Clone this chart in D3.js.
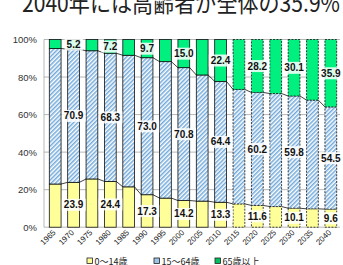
<!DOCTYPE html>
<html>
<head>
<meta charset="utf-8">
<script src="https://cdn.jsdelivr.net/npm/d3@7"></script>
<style>
  body { margin: 0; background: #fff; }
  svg { display: block; }
</style>
</head>
<body>
<div id="chart"></div>
<script>
// 年別の年齢3区分別人口割合（%）
let years = ["1965","1970","1975","1980","1985","1990","1995","2000","2005","2010","2015","2020","2025","2030","2035","2040"];
let young = [23.0, 23.9, 25.7, 24.4, 21.5, 17.3, 15.5, 14.2, 13.9, 13.3, 12.4, 11.6, 11.0, 10.1, 9.8, 9.6];
let working = [72.2, 70.9, 68.3, 68.3, 70.1, 73.0, 72.7, 70.8, 67.2, 64.4, 61.0, 60.2, 60.2, 59.8, 57.9, 54.5];
let elderly = [4.8, 5.2, 6.0, 7.2, 8.4, 9.7, 11.8, 15.0, 18.9, 22.4, 26.6, 28.2, 28.8, 30.1, 32.3, 35.9];
let seriesNames = ["0～14歳", "15～64歳", "65歳以上"];
let yTicks = [0, 20, 40, 60, 80, 100];
let labelYears = ["1970","1980","1990","2000","2010","2020","2030","2040"];
let firstProjection = "2015";
let title = "2040年には高齢者が全体の35.9%";

function ready(fn) {
  if (document.readyState != 'loading') fn();
  else document.addEventListener('DOMContentLoaded', fn);
}
ready(main);

function main() {
  let width = 343, height = 265;
  let colors = ["#ffff99", "url(#hatch)", "#00f080"];

  const svg = d3.select("#chart").append("svg")
    .attr("width", width).attr("height", height);

  let defs = svg.append("defs");
  let pat = defs.append("pattern")
    .attr("id", "hatch")
    .attr("patternUnits", "userSpaceOnUse")
    .attr("width", 3).attr("height", 3)
    .attr("patternTransform", "rotate(45)");
  pat.append("rect").attr("width", 3).attr("height", 3).attr("fill", "#fff");
  pat.append("line").attr("x1", 0.8).attr("y1", 0).attr("x2", 0.8).attr("y2", 3)
    .attr("stroke", "#5b9bd5").attr("stroke-width", 1.3);

  let x = d3.scaleBand().domain(years).range([46, 340]).paddingInner(0.36).paddingOuter(0.18);
  let y = d3.scaleLinear().domain([0, 100]).range([227.2, 39.5]);

  // タイトル（上部が切れている）
  svg.append("text")
    .attr("x", 22).attr("y", 12)
    .attr("font-family", "'Noto Sans CJK JP', sans-serif")
    .attr("font-size", 24)
    .attr("textLength", 318)
    .attr("lengthAdjust", "spacingAndGlyphs")
    .attr("fill", "#222")
    .text(title);

  // グリッド
  svg.append("g").selectAll("line").data(yTicks).join("line")
    .attr("x1", 44).attr("x2", 340)
    .attr("y1", d => y(d)).attr("y2", d => y(d))
    .attr("stroke", "#a6a6a6").attr("stroke-width", 0.8);
  svg.append("line").attr("x1", 44).attr("x2", 44).attr("y1", y(100)).attr("y2", y(0))
    .attr("stroke", "#a6a6a6").attr("stroke-width", 0.8);

  svg.append("g").selectAll("text").data(yTicks).join("text")
    .attr("x", 37).attr("y", d => y(d) + 3.5)
    .attr("text-anchor", "end")
    .attr("font-family", "'Liberation Sans', Arial, sans-serif")
    .attr("font-size", 9.5).attr("fill", "#333")
    .text(d => d + "%");

  let rows = years.map((yr, i) => ({ year: yr, v: [young[i], working[i], elderly[i]] }));
  let stack = d3.stack().keys([0, 1, 2]).value((d, k) => d.v[k]);
  let layers = stack(rows);
  let projIdx = years.indexOf(firstProjection);

  layers.forEach((layer, k) => {
    svg.append("g").selectAll("rect").data(layer).join("rect")
      .attr("x", d => x(d.data.year))
      .attr("width", x.bandwidth())
      .attr("y", d => y(Math.min(d[1], 100)))
      .attr("height", d => y(d[0]) - y(Math.min(d[1], 100)))
      .attr("fill", colors[k])
      .attr("stroke", "#111")
      .attr("stroke-width", 0.8)
      .attr("stroke-dasharray", (d, i) => i >= projIdx ? "2,1.3" : null);
  });

  // 区分線
  [0, 1].forEach(k => {
    let tops = layers[k].map(d => Math.min(d[1], 100));
    let segs = d3.pairs(years.map((yr, i) => ({ yr, t: tops[i] })));
    svg.append("g").selectAll("line").data(segs).join("line")
      .attr("x1", d => x(d[0].yr) + x.bandwidth())
      .attr("y1", d => y(d[0].t))
      .attr("x2", d => x(d[1].yr))
      .attr("y2", d => y(d[1].t))
      .attr("stroke", "#111").attr("stroke-width", 0.8);
  });

  // データラベル
  let lab = svg.append("g")
    .attr("font-family", "'Liberation Sans', Arial, sans-serif")
    .attr("font-size", 10).attr("font-weight", "bold");
  layers.forEach(layer => {
    layer.filter(d => labelYears.includes(d.data.year)).forEach(d => {
      let cx = x(d.data.year) + x.bandwidth() / 2;
      let cy = y((d[0] + Math.min(d[1], 100)) / 2);
      let g = lab.append("g");
      let t = g.append("text")
        .attr("x", cx).attr("y", cy + 3.6)
        .attr("text-anchor", "middle").attr("fill", "#111")
        .text((d[1] - d[0]).toFixed(1));
      let b = t.node().getBBox();
      g.insert("rect", "text")
        .attr("x", b.x - 2).attr("y", b.y - 0.5)
        .attr("width", b.width + 4).attr("height", b.height + 1)
        .attr("fill", "#fff").attr("fill-opacity", 0.85);
    });
  });

  // x軸ラベル
  svg.append("g").selectAll("text").data(years).join("text")
    .attr("transform", d => `translate(${x(d) + x.bandwidth() / 2 + 1},${233}) rotate(-45)`)
    .attr("text-anchor", "end")
    .attr("font-family", "'Liberation Sans', Arial, sans-serif")
    .attr("font-size", 8).attr("fill", "#222")
    .text(d => d);

  // 凡例
  let legX = [87, 154, 215];
  let legFill = ["#ffff99", "#9dc3e6", "#00c060"];
  let leg = svg.append("g").selectAll("g").data(seriesNames).join("g")
    .attr("transform", (d, i) => `translate(${legX[i]},${258})`);
  leg.append("rect").attr("width", 5.5).attr("height", 5.5)
    .attr("fill", (d, i) => legFill[i]).attr("stroke", "#222").attr("stroke-width", 0.8);
  leg.append("text").attr("x", 7.5).attr("y", 7)
    .attr("font-family", "'Noto Sans CJK JP', sans-serif")
    .attr("font-size", 9).attr("fill", "#222")
    .text(d => d);
}
</script>
</body>
</html>
